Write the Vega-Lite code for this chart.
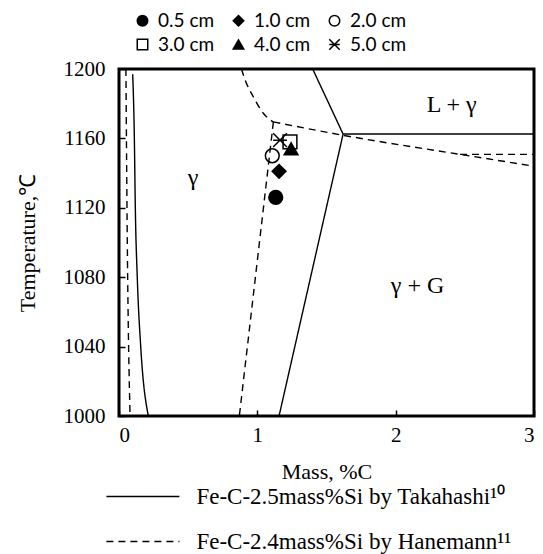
{
  "$schema": "https://vega.github.io/schema/vega-lite/v6.json",
  "width": 415,
  "height": 347,
  "autosize": {"type": "none"},
  "padding": {"left": 119, "top": 69, "right": 9, "bottom": 138},
  "background": "white",
  "config": {
    "view": {"stroke": "black", "strokeWidth": 3},
    "axis": {
      "grid": false,
      "domain": false,
      "ticks": true,
      "tickSize": -6,
      "tickColor": "black",
      "tickWidth": 1.5,
      "labelFont": "Liberation Serif",
      "labelFontSize": 21,
      "labelColor": "black",
      "titleFont": "Liberation Serif",
      "titleFontSize": 22,
      "titleFontWeight": "normal",
      "titleColor": "black"
    },
    "legend": {"padding": 0, "offset": 0}
  },
  "datasets": {
    "lines": [
      {"series": "Takahashi", "seg": "T1", "o": 1, "x": 0.099, "y": 1197},
      {"series": "Takahashi", "seg": "T1", "o": 2, "x": 0.111, "y": 1160},
      {"series": "Takahashi", "seg": "T1", "o": 3, "x": 0.118, "y": 1120},
      {"series": "Takahashi", "seg": "T1", "o": 4, "x": 0.132, "y": 1080},
      {"series": "Takahashi", "seg": "T1", "o": 5, "x": 0.157, "y": 1040},
      {"series": "Takahashi", "seg": "T1", "o": 6, "x": 0.212, "y": 1000},
      {"series": "Takahashi", "seg": "T2", "o": 1, "x": 1.40, "y": 1200},
      {"series": "Takahashi", "seg": "T2", "o": 2, "x": 1.62, "y": 1162.5},
      {"series": "Takahashi", "seg": "T3", "o": 1, "x": 1.62, "y": 1162.5},
      {"series": "Takahashi", "seg": "T3", "o": 2, "x": 3.0, "y": 1162.5},
      {"series": "Takahashi", "seg": "T4", "o": 1, "x": 1.62, "y": 1162.5},
      {"series": "Takahashi", "seg": "T4", "o": 2, "x": 1.157, "y": 1000},
      {"series": "Hanemann", "seg": "H1", "o": 1, "x": 0.05, "y": 1200},
      {"series": "Hanemann", "seg": "H1", "o": 2, "x": 0.06, "y": 1100},
      {"series": "Hanemann", "seg": "H1", "o": 3, "x": 0.08, "y": 1000},
      {"series": "Hanemann", "seg": "H2", "o": 1, "x": 0.885, "y": 1200},
      {"series": "Hanemann", "seg": "H2", "o": 2, "x": 0.92, "y": 1192},
      {"series": "Hanemann", "seg": "H2", "o": 3, "x": 0.971, "y": 1184},
      {"series": "Hanemann", "seg": "H2", "o": 4, "x": 1.043, "y": 1174.5},
      {"series": "Hanemann", "seg": "H2", "o": 5, "x": 1.116, "y": 1169.5},
      {"series": "Hanemann", "seg": "H3", "o": 1, "x": 1.116, "y": 1169.5},
      {"series": "Hanemann", "seg": "H3", "o": 2, "x": 1.62, "y": 1161.8},
      {"series": "Hanemann", "seg": "H3", "o": 3, "x": 2.465, "y": 1150.8},
      {"series": "Hanemann", "seg": "H3", "o": 4, "x": 3.0, "y": 1144},
      {"series": "Hanemann", "seg": "H4", "o": 1, "x": 2.465, "y": 1150.8},
      {"series": "Hanemann", "seg": "H4", "o": 2, "x": 3.0, "y": 1150.8},
      {"series": "Hanemann", "seg": "H5", "o": 1, "x": 1.116, "y": 1169.5},
      {"series": "Hanemann", "seg": "H5", "o": 2, "x": 0.87, "y": 1000}
    ],
    "points": [
      {"size": "0.5 cm", "x": 1.133, "y": 1126},
      {"size": "1.0 cm", "x": 1.157, "y": 1141},
      {"size": "2.0 cm", "x": 1.108, "y": 1150},
      {"size": "3.0 cm", "x": 1.236, "y": 1158},
      {"size": "4.0 cm", "x": 1.244, "y": 1154},
      {"size": "5.0 cm", "x": 1.164, "y": 1159}
    ],
    "labels": [
      {"text": "γ", "x": 0.535, "y": 1137},
      {"text": "L + γ", "x": 2.405, "y": 1179},
      {"text": "γ + G", "x": 2.158, "y": 1075}
    ]
  },
  "layer": [
    {
      "data": {"name": "lines"},
      "mark": {"type": "line", "color": "black", "strokeWidth": 1.4, "interpolate": "monotone"},
      "encoding": {
        "x": {"field": "x", "type": "quantitative", "scale": {"domain": [0, 3], "nice": false, "zero": false},
              "axis": {"values": [0, 1, 2, 3], "format": "d", "title": "Mass, %C", "labelPadding": 14, "titlePadding": 16}},
        "y": {"field": "y", "type": "quantitative", "scale": {"domain": [1000, 1200], "nice": false, "zero": false},
              "axis": {"values": [1000, 1040, 1080, 1120, 1160, 1200], "format": "d", "title": "Temperature,℃", "labelPadding": 20, "titlePadding": 24}},
        "detail": {"field": "seg"},
        "order": {"field": "o", "type": "quantitative"},
        "strokeDash": {
          "field": "series", "type": "nominal",
          "scale": {"domain": ["Takahashi", "Hanemann"], "range": [[1, 0], [7, 5]]},
          "legend": {
            "orient": "none", "legendX": 12.4, "legendY": 416, "title": null,
            "labelExpr": "datum.value == 'Takahashi' ? 'Fe-C-2.5mass%Si by Takahashi¹⁰' : 'Fe-C-2.4mass%Si by Hanemann¹¹'",
            "symbolType": "M-4,0L4,0", "symbolSize": 333, "symbolStrokeWidth": 1.5, "symbolStrokeColor": "black",
            "labelFont": "Liberation Serif", "labelFontSize": 23, "labelColor": "black", "labelOffset": 42,
            "rowPadding": 21, "labelLimit": 500
          }
        }
      }
    },
    {
      "data": {"name": "points"},
      "mark": {"type": "point", "size": 190, "strokeWidth": 1.5, "opacity": 1},
      "encoding": {
        "x": {"field": "x", "type": "quantitative"},
        "y": {"field": "y", "type": "quantitative"},
        "shape": {
          "field": "size", "type": "nominal",
          "scale": {"domain": ["0.5 cm", "3.0 cm", "1.0 cm", "4.0 cm", "2.0 cm", "5.0 cm"],
                    "range": ["circle", "square", "diamond", "triangle-up", "circle", "M-1,-1L1,1M-1,1L1,-1M-1,0L1,0"]},
          "legend": {
            "orient": "none", "legendX": 14, "legendY": -58, "title": null, "columns": 3,
            "columnPadding": 14, "rowPadding": 4, "symbolSize": 110, "symbolStrokeWidth": 1.5,
            "labelFont": "Lato", "labelFontSize": 19, "labelColor": "black", "labelOffset": 6
          }
        },
        "fill": {
          "field": "size", "type": "nominal",
          "scale": {"domain": ["0.5 cm", "3.0 cm", "1.0 cm", "4.0 cm", "2.0 cm", "5.0 cm"],
                    "range": ["black", "transparent", "black", "black", "transparent", "transparent"]},
          "legend": {
            "orient": "none", "legendX": 14, "legendY": -58, "title": null, "columns": 3,
            "columnPadding": 14, "rowPadding": 4, "symbolSize": 110, "symbolStrokeWidth": 1.5,
            "labelFont": "Lato", "labelFontSize": 19, "labelColor": "black", "labelOffset": 6
          }
        },
        "stroke": {
          "field": "size", "type": "nominal",
          "scale": {"domain": ["0.5 cm", "3.0 cm", "1.0 cm", "4.0 cm", "2.0 cm", "5.0 cm"],
                    "range": ["black", "black", "black", "black", "black", "black"]},
          "legend": {
            "orient": "none", "legendX": 14, "legendY": -58, "title": null, "columns": 3,
            "columnPadding": 14, "rowPadding": 4, "symbolSize": 110, "symbolStrokeWidth": 1.5,
            "labelFont": "Lato", "labelFontSize": 19, "labelColor": "black", "labelOffset": 6
          }
        }
      }
    },
    {
      "data": {"name": "labels"},
      "mark": {"type": "text", "font": "Liberation Serif", "fontSize": 24, "color": "black", "baseline": "middle", "align": "center"},
      "encoding": {
        "x": {"field": "x", "type": "quantitative"},
        "y": {"field": "y", "type": "quantitative"},
        "text": {"field": "text"}
      }
    }
  ]
}
